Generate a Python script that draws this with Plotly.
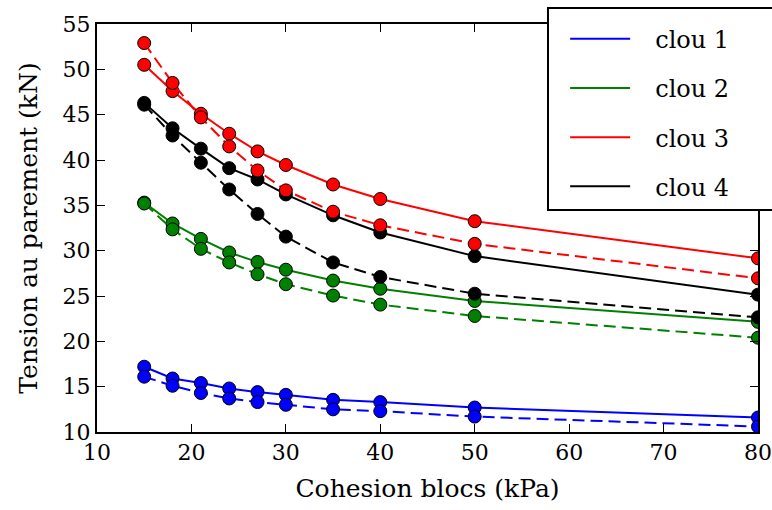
import plotly.graph_objects as go

cohesion = [15, 18, 21, 24, 27, 30, 35, 40, 50, 80]
series_names = ["clou 1", "clou 2", "clou 3", "clou 4"]
colors = ["#0000ff", "#008000", "#ff0000", "#000000"]

clou1_solid = [17.2, 15.9, 15.4, 14.8, 14.4, 14.1, 13.55, 13.3, 12.7, 11.6]
clou1_dashed = [16.1, 15.1, 14.3, 13.7, 13.3, 13.0, 12.5, 12.3, 11.7, 10.6]
clou2_solid = [35.3, 33.0, 31.3, 29.8, 28.75, 27.9, 26.7, 25.8, 24.45, 22.15]
clou2_dashed = [35.2, 32.35, 30.2, 28.7, 27.4, 26.3, 25.05, 24.05, 22.8, 20.4]
clou3_solid = [50.5, 47.6, 45.1, 42.9, 40.95, 39.45, 37.3, 35.7, 33.25, 29.15]
clou3_dashed = [52.9, 48.5, 44.7, 41.5, 38.85, 36.65, 34.3, 32.8, 30.75, 26.95]
clou4_solid = [46.3, 43.5, 41.25, 39.1, 37.85, 36.2, 33.9, 32.0, 29.4, 25.15]
clou4_dashed = [46.1, 42.7, 39.7, 36.75, 34.05, 31.55, 28.7, 27.1, 25.25, 22.65]

x_ticks = [10, 20, 30, 40, 50, 60, 70, 80]
y_ticks = [10, 15, 20, 25, 30, 35, 40, 45, 50, 55]

solids = [clou1_solid, clou2_solid, clou3_solid, clou4_solid]
dasheds = [clou1_dashed, clou2_dashed, clou3_dashed, clou4_dashed]

FONT = "DejaVu Serif"
NB = "\u00a0"
fig = go.Figure()

for ys, col in zip(solids, colors):
    fig.add_trace(go.Scatter(
        x=cohesion, y=ys, mode="lines+markers",
        line=dict(color=col, width=2),
        marker=dict(symbol="circle", size=13, color=col, line=dict(color="black", width=1)),
        showlegend=False))
for ys, col in zip(dasheds, colors):
    fig.add_trace(go.Scatter(
        x=cohesion, y=ys, mode="lines+markers",
        line=dict(color=col, width=2, dash="12px,6px"),
        marker=dict(symbol="circle", size=13, color=col, line=dict(color="black", width=1)),
        showlegend=False))

# legend entries (line only)
for i, (name, col) in enumerate(zip(series_names, colors)):
    fig.add_trace(go.Scatter(
        x=[None], y=[None], mode="lines", name=NB * 2 + "\u2009" + name + NB * 5,
        line=dict(color=col, width=2), legendgroup=f"g{i}", showlegend=True))

axis_common = dict(
    showgrid=False, zeroline=False, showline=True, linecolor="black", linewidth=2,
    mirror="ticks", ticks="inside", ticklen=8, tickwidth=1, tickcolor="black",
    tickfont=dict(family=FONT, size=22, color="black"),
)

fig.update_layout(
    width=772, height=510,
    margin=dict(l=97, r=14, t=24, b=78, autoexpand=False),
    plot_bgcolor="white", paper_bgcolor="white",
    xaxis=dict(range=[10, 80], tickvals=x_ticks, ticktext=[str(v) for v in x_ticks],
               title=dict(text="Cohesion blocs (kPa)", font=dict(family=FONT, size=25, color="black"), standoff=15),
               **axis_common),
    yaxis=dict(range=[10, 55], tickvals=y_ticks, ticktext=[str(v) for v in y_ticks],
               title=dict(text="Tension au parement (kN)", font=dict(family=FONT, size=25, color="black"), standoff=18),
               **axis_common),
    legend=dict(
        x=0.681, y=1.042, xanchor="left", yanchor="top",
        bgcolor="white", bordercolor="black", borderwidth=2,
        font=dict(family=FONT, size=24, color="black"),
        title=dict(text=NB, font=dict(family=FONT, size=6)),
        itemwidth=60, indentation=16, traceorder="grouped", tracegroupgap=15,
    ),
)

fig.write_html("out.html", config={"displayModeBar": False},
               post_script="document.body.style.margin='0';")
